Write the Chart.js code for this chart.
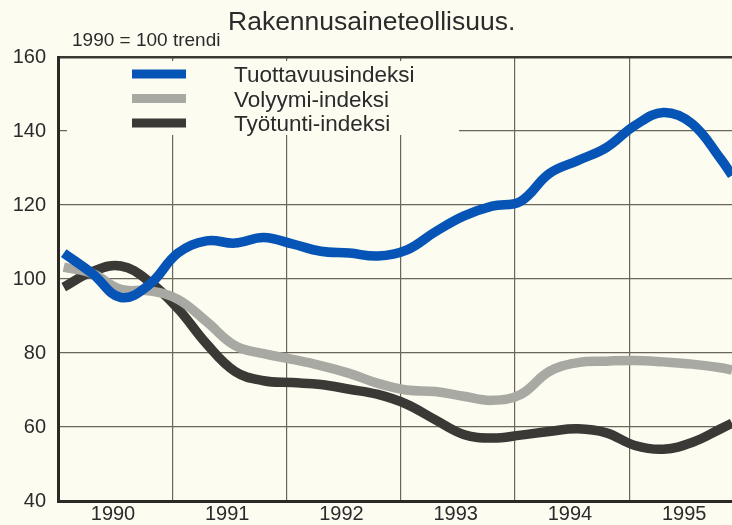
<!DOCTYPE html>
<html>
<head>
<meta charset="utf-8">
<script src="https://cdn.jsdelivr.net/npm/chart.js@4/dist/chart.umd.min.js"></script>
<style>
  html, body { margin: 0; padding: 0; background: #fdfcf1; }
  #wrap { width: 732px; height: 525px; }
</style>
</head>
<body>
<div id="wrap"><canvas id="chart" width="732" height="525"></canvas></div>
<script>
// quarterly trend points, decimal years
const periodit = [1990.05, 1990.3, 1990.55, 1990.8, 1991.05, 1991.3, 1991.55, 1991.8,
  1992.05, 1992.3, 1992.55, 1992.8, 1993.05, 1993.3, 1993.55, 1993.8,
  1994.05, 1994.3, 1994.55, 1994.8, 1995.05, 1995.3, 1995.55, 1995.8, 1995.9];

const tuottavuus = [107, 101.5, 95, 98.5, 107, 110.3, 109.7, 111.2,
  109.5, 107.5, 107, 106.2, 107.8, 112.7, 117, 119.7,
  121, 128.5, 132, 135.5, 141.5, 145, 142, 132.5, 128];

const volyymi = [103.2, 101.5, 97.2, 96.8, 94.5, 88.5, 82, 79.8,
  78.3, 76.6, 74.5, 71.8, 70, 69.6, 68.3, 67.2,
  68.8, 75, 77.4, 77.8, 78, 77.6, 77, 76, 75.4];

const tyotunti = [97.8, 102, 103.5, 99.3, 92, 82.5, 75, 72.5,
  72, 71.5, 70.2, 68.8, 66.2, 62, 58, 57,
  57.8, 58.8, 59.5, 58.4, 55, 54, 55.8, 59.5, 61];

const sarjat = ['Tuottavuusindeksi', 'Volyymi-indeksi', 'Työtunti-indeksi'];
const varit = ['#0654b5', '#a9a9a3', '#3a3935'];
const yTicks = [40, 60, 80, 100, 120, 140, 160];

const otsikko = 'Rakennusaineteollisuus.';
const alaotsikko = '1990 = 100 trendi';

const TAUSTA = '#fdfcf1';
const TEKSTI = '#2b2b2b';
const FONTTI = '"Liberation Sans", Arial, sans-serif';

const pisteet = arr => arr.map((v, i) => ({ x: periodit[i], y: v }));

// title texts and the legend box over the grid
const koristeet = {
  id: 'koristeet',
  beforeDatasetsDraw(chart) {
    const ctx = chart.ctx;
    ctx.save();
    ctx.fillStyle = TAUSTA;
    ctx.fillRect(67, 61, 392, 74);
    ctx.restore();
  },
  afterDatasetsDraw(chart) {
    const ctx = chart.ctx;
    ctx.save();
    ctx.fillStyle = TEKSTI;
    ctx.textBaseline = 'alphabetic';
    ctx.font = '26.5px ' + FONTTI;
    ctx.fillText(otsikko, 228, 30);
    ctx.font = '19px ' + FONTTI;
    ctx.fillText(alaotsikko, 72, 46);

    // legend
    ctx.font = '22.5px ' + FONTTI;
    ctx.textBaseline = 'middle';
    chart.data.datasets.forEach((ds, i) => {
      const y = 74 + i * 24.5;
      ctx.strokeStyle = ds.borderColor;
      ctx.lineWidth = 9;
      ctx.beginPath();
      ctx.moveTo(132, y);
      ctx.lineTo(186, y);
      ctx.stroke();
      ctx.fillStyle = TEKSTI;
      ctx.fillText(ds.label, 234, y + 2);
    });
    ctx.restore();
  }
};

new Chart(document.getElementById('chart'), {
  type: 'line',
  data: {
    datasets: [
      { label: sarjat[0], data: pisteet(tuottavuus), borderColor: varit[0] },
      { label: sarjat[1], data: pisteet(volyymi), borderColor: varit[1] },
      { label: sarjat[2], data: pisteet(tyotunti), borderColor: varit[2] }
    ].map(d => ({ ...d, borderWidth: 9.5, pointRadius: 0, tension: 0.4, fill: false }))
  },
  options: {
    responsive: false,
    animation: false,
    layout: { padding: { top: 57, right: 0, left: 0, bottom: 0 } },
    plugins: {
      legend: { display: false },
      title: { display: false },
      tooltip: { enabled: false }
    },
    scales: {
      x: {
        type: 'linear',
        min: 1990,
        max: 1995.9,
        afterFit: s => { s.height = 24; },
        afterBuildTicks: s => {
          s.ticks = [1990, 1991, 1992, 1993, 1994, 1995].map(v => ({ value: v }));
        },
        ticks: {
          callback: v => String(v),
          labelOffset: 55,
          padding: 1,
          maxRotation: 0,
          autoSkip: false,
          color: TEKSTI,
          font: { family: FONTTI, size: 20 }
        },
        grid: { color: '#6a665c', lineWidth: 1.2, drawTicks: false },
        border: { display: true, color: '#2a2925', width: 3 }
      },
      y: {
        min: 40,
        max: 160,
        afterFit: s => { s.width = 58; },
        afterBuildTicks: s => {
          s.ticks = yTicks.map(v => ({ value: v }));
        },
        ticks: {
          padding: 12,
          color: TEKSTI,
          font: { family: FONTTI, size: 20 }
        },
        grid: {
          color: ctx => ctx.tick && ctx.tick.value === 160 ? '#3a3833' : '#6a665c',
          lineWidth: ctx => ctx.tick && ctx.tick.value === 160 ? 2.5 : 1.2,
          drawTicks: false
        },
        border: { display: true, color: '#2a2925', width: 3 }
      }
    }
  },
  plugins: [koristeet]
});
</script>
</body>
</html>
